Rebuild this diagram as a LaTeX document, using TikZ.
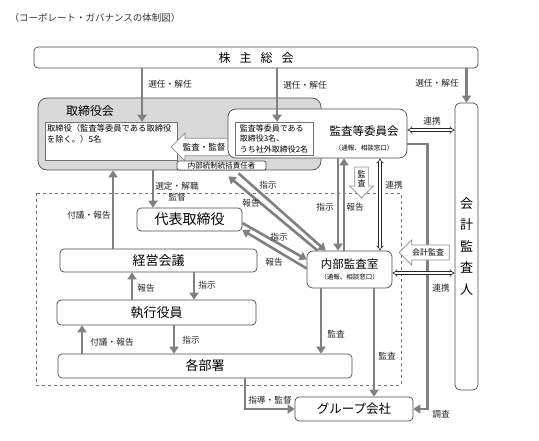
\documentclass[tikz,border=0pt]{standalone}
\usepackage{fontspec}
\setmainfont{Noto Sans CJK JP}
\usetikzlibrary{shapes,arrows.meta,positioning,calc}

\begin{document}
\begin{tikzpicture}[x=1pt, y=-1pt,
    box/.style={rectangle, rounded corners=4pt, draw=black!70, fill=white, line width=0.7pt},
    tbox/.style={rectangle, draw=black!55, fill=white, line width=0.6pt},
    arrow/.style={-{Triangle[length=7pt,width=9pt]}, line width=2.6pt, draw=black!50},
    link/.style={{Implies}-{Implies}, double=white, double distance=2pt, line width=0.6pt, draw=black!85},
    bigarrow/.style={single arrow, draw=black!45, fill=white, line width=0.7pt, single arrow head extend=5pt, inner xsep=2.5pt, inner ysep=3.5pt, font=\fontsize{8.5}{10}\selectfont},
    lbl/.style={font=\fontsize{8.7}{11}\selectfont, inner sep=1pt, text=black!85}
]
    \useasboundingbox (0,0) rectangle (539,441);

    % タイトル
    \node[font=\fontsize{9.5}{11}\selectfont, anchor=west, text=black!80] (title) at (6,18) {（コーポレート・ガバナンスの体制図）};

    % 株主総会
    \node[box, minimum width=444pt, minimum height=21pt, font=\fontsize{12}{14}\selectfont] (kabu) at (256,57.5)
        {株\hspace{9pt}主\hspace{9pt}総\hspace{9pt}会};

    % 業務執行の範囲（点線）
    \draw[dashed, black!55, line width=0.8pt] (36,193) rectangle (401,385);

    % 取締役会
    \node[box, fill=black!15, minimum width=283pt, minimum height=72pt, rounded corners=9pt] (torikai) at (179.5,134) {};
    \node[font=\fontsize{12}{14}\selectfont] (torikai-t) at (90,111) {取締役会};
    \node[tbox, minimum width=132pt, minimum height=38pt, inner sep=2pt, font=\fontsize{8.3}{11}\selectfont] (torin) at (111,141)
        {\parbox[c][34pt][t]{128pt}{取締役（監査等委員である取締役\\を除く。）5名}};
    \node[bigarrow, shape border rotate=180, minimum height=52pt, inner ysep=4.5pt] (kantoku) at (204,147) {監査・監督};

    % 監査等委員会
    \node[box, minimum width=179pt, minimum height=49pt, rounded corners=8pt] (kansa) at (317.5,133.5) {};
    \node[font=\fontsize{11.5}{13}\selectfont] (kansa-t) at (364,131) {監査等委員会};
    \node[font=\fontsize{6.5}{8}\selectfont] (kansa-s) at (364,148) {（通報、相談窓口）};
    \node[tbox, minimum width=78pt, minimum height=33pt, inner sep=2pt, align=left, font=\fontsize{8}{10.5}\selectfont] (kin) at (274,138.5)
        {監査等委員である\\取締役3名、\\うち社外取締役2名};
    \node[box, rounded corners=2pt, minimum width=89pt, minimum height=9pt, inner sep=0.5pt, font=\fontsize{7.5}{8}\selectfont] (naibu) at (221.5,165.5)
        {内部統制統括責任者};

    % 会計監査人
    \node[box, minimum width=23pt, minimum height=287pt, rounded corners=5pt, align=center, font=\fontsize{13}{21.5}\selectfont] (kaikei) at (466.5,246.5)
        {会\\計\\監\\査\\人};

    % 執行側
    \node[box, minimum width=105pt, minimum height=23pt, font=\fontsize{14}{16}\selectfont] (daihyo) at (189.5,219.5) {代表取締役};
    \node[box, minimum width=197pt, minimum height=23pt, font=\fontsize{13}{15}\selectfont] (keiei) at (158.5,260.5) {経営会議};
    \node[box, minimum width=199pt, minimum height=25pt, font=\fontsize{13}{15}\selectfont] (shikko) at (156.5,312.5) {執行役員};
    \node[box, minimum width=294pt, minimum height=24pt, font=\fontsize{13}{15}\selectfont] (kakubu) at (205,366) {各部署};
    \node[box, minimum width=118pt, minimum height=24pt, font=\fontsize{12.5}{15}\selectfont] (group) at (354,409) {グループ会社};
    \node[box, minimum width=85pt, minimum height=37pt, rounded corners=6pt, align=center, font=\fontsize{11.5}{12}\selectfont] (kansashitsu) at (349.5,269.5)
        {内部監査室\\[-1pt]{\fontsize{6.5}{8}\selectfont （通報、相談窓口）}};

    % 選任・解任
    \draw[arrow] (kabu.south -| 142,0) -- (torin.north -| 142,0);
    \draw[arrow] (kabu.south -| 277,0) -- (kin.north -| 277,0);
    \draw[arrow] (kabu.south -| kaikei.north) -- (kaikei.north);
    \node[lbl] (l-sen1) at (170,84) {選任・解任};
    \node[lbl] (l-sen2) at (305,85) {選任・解任};
    \node[lbl] (l-sen3) at (437,83) {選任・解任};

    % 取締役会と執行側
    \draw[arrow] (keiei.north -| 113,0) -- (torikai.south -| 113,0);
    \draw[arrow] (torikai.south -| 153,0) -- (daihyo.north -| 153,0);
    \draw[arrow] (shikko.north -| 132,0) -- (keiei.south -| 132,0);
    \draw[arrow] (keiei.south -| 194,0) -- (shikko.north -| 194,0);
    \draw[arrow] (kakubu.north -| 82,0) -- (shikko.south -| 82,0);
    \draw[arrow] (shikko.south -| 174,0) -- (kakubu.north -| 174,0);
    \draw[arrow] (kakubu.south -| 245,0) |- (group.west);
    \node[lbl] (l-fugi1) at (89,215) {付議・報告};
    \node[lbl, align=center] (l-sentei) at (177,192) {選定・解職\\監督};
    \node[lbl] (l-hok1) at (146,288) {報告};
    \node[lbl] (l-shi1) at (207,285) {指示};
    \node[lbl] (l-fugi2) at (112,342) {付議・報告};
    \node[lbl] (l-shi2) at (191,340) {指示};
    \node[lbl] (l-shido) at (270,400) {指導・監督};

    % 内部監査室
    \draw[arrow] ([xshift=11pt]kansashitsu.north west) -- ([xshift=7pt,yshift=-6pt]naibu.south);
    \draw[arrow] ([xshift=17pt,yshift=-3pt]naibu.south) -- ([xshift=19pt]kansashitsu.north west);
    \draw[arrow] ([yshift=-3.5pt]daihyo.east) -- ([yshift=10pt]kansashitsu.west);
    \draw[arrow] ([yshift=1pt]kansashitsu.west) -- ([yshift=-10.5pt]daihyo.east);
    \draw[arrow] (kansa.south -| 338,0) -- (kansashitsu.north -| 338,0);
    \draw[arrow] (kansashitsu.north -| 344,0) -- (kansa.south -| 344,0);
    \draw[arrow] (kansashitsu.south -| 321,0) -- (kakubu.north -| 321,0);
    \draw[arrow] (kansashitsu.south -| 374,0) -- (group.north -| 374,0);
    \draw[arrow] ([yshift=-10.5pt]kansa.east) -| ([xshift=14pt]group.east) -- (group.east);
    \node[lbl] (l-shi3) at (268,185) {指示};
    \node[lbl] (l-hok2) at (251,203) {報告};
    \node[lbl] (l-shi4) at (279,237) {指示};
    \node[lbl] (l-hok3) at (274,262) {報告};
    \node[lbl] (l-shi5) at (325,207) {指示};
    \node[lbl] (l-hok4) at (355,207) {報告};
    \node[lbl] (l-kan1) at (336,334) {監査};
    \node[lbl] (l-kan2) at (387,356) {監査};
    \node[lbl] (l-chosa) at (441,414) {調査};

    % 白抜き矢印
    \node[bigarrow, shape border rotate=270, minimum height=28pt, align=center, font=\fontsize{8}{9}\selectfont] (kansa-a) at (361.5,179) {監\\査};
    \node[bigarrow, shape border rotate=180, minimum height=50pt, font=\fontsize{8}{9}\selectfont] (kaikeikansa) at (428,252.5) {会計監査};

    % 連携
    \draw[link] (kansa.east |- 0,130) -- (kaikei.west |- 0,130);
    \draw[link] (kansa.south -| 380,0) -- (kansashitsu.north -| 380,0);
    \draw[link] (kansashitsu.east |- 0,273) -- (kaikei.west |- 0,273);
    \node[lbl] (l-ren1) at (432,121) {連携};
    \node[lbl] (l-ren2) at (394,185) {連携};
    \node[lbl] (l-ren3) at (441,288) {連携};
\end{tikzpicture}
\end{document}
